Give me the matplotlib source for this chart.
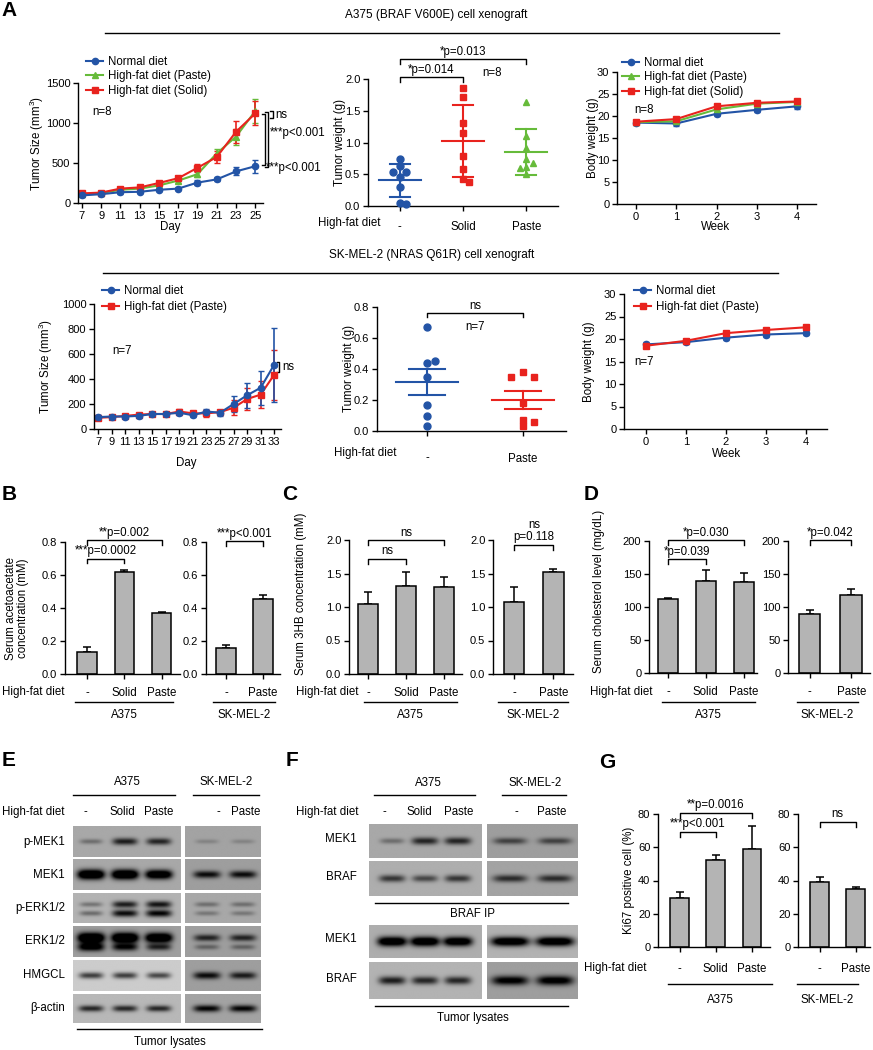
import numpy as np
import matplotlib
matplotlib.use("Agg")
import matplotlib.pyplot as plt
from matplotlib.lines import Line2D

plt.rcParams['font.family'] = ['Liberation Sans', 'DejaVu Sans']
plt.rcParams['font.size'] = 8.3
plt.rcParams['mathtext.fontset'] = 'custom'
plt.rcParams['mathtext.rm'] = 'Liberation Sans'
plt.rcParams['mathtext.it'] = 'Liberation Sans:italic'
plt.rcParams['axes.linewidth'] = 1.0

BLUE, RED, GREEN, GREY = '#2354a6', '#e8231e', '#66bb3a', '#b4b4b4'

# ---------------- data ----------------
# A, row 1: A375 xenograft
days_a375 = [7, 9, 11, 13, 15, 17, 19, 21, 23, 25]
a375_normal = [95, 110, 135, 140, 165, 180, 255, 295, 395, 460]
a375_normal_err = [20, 20, 20, 20, 20, 20, 35, 25, 50, 80]
a375_paste = [110, 125, 165, 180, 220, 280, 360, 620, 830, 1150]
a375_paste_err = [20, 20, 20, 20, 25, 30, 40, 60, 100, 150]
a375_solid = [120, 130, 180, 195, 250, 310, 440, 575, 890, 1120]
a375_solid_err = [20, 20, 25, 25, 30, 30, 50, 80, 140, 150]

wt_a375_normal = [0.74, 0.63, 0.53, 0.53, 0.45, 0.30, 0.05, 0.03]
wt_a375_solid = [1.86, 1.72, 1.30, 1.15, 0.78, 0.59, 0.43, 0.38]
wt_a375_paste = [1.63, 1.105, 0.92, 0.74, 0.68, 0.62, 0.60, 0.51]

weeks = [0, 1, 2, 3, 4]
bw_a375_normal = [18.5, 18.3, 20.5, 21.4, 22.2]
bw_a375_paste = [18.6, 18.8, 21.5, 22.8, 23.2]
bw_a375_solid = [18.7, 19.3, 22.2, 23.0, 23.3]
bw_a375_err = [0.5, 0.5, 0.5, 0.5, 0.5]

# A, row 2: SK-MEL-2 xenograft
days_sk = [7, 9, 11, 13, 15, 17, 19, 21, 23, 25, 27, 29, 31, 33]
sk_normal = [95, 100, 100, 105, 120, 120, 130, 110, 140, 130, 200, 270, 330, 515]
sk_normal_err = [20, 15, 15, 15, 15, 15, 20, 15, 20, 25, 65, 100, 135, 295]
sk_paste = [90, 95, 105, 115, 120, 120, 140, 125, 125, 135, 170, 240, 275, 435]
sk_paste_err = [20, 15, 15, 15, 15, 15, 20, 15, 25, 20, 60, 90, 110, 200]

wt_sk_normal = [0.67, 0.44, 0.45, 0.35, 0.17, 0.10, 0.03]
wt_sk_paste = [0.378, 0.35, 0.35, 0.18, 0.07, 0.058, 0.03]

bw_sk_normal = [18.8, 19.3, 20.3, 21.0, 21.3]
bw_sk_paste = [18.5, 19.6, 21.3, 22.0, 22.6]
bw_sk_err = [0.5, 0.5, 0.5, 0.5, 0.5]

# B-D, G bar charts
groups_a375 = ['-', 'Solid', 'Paste']
groups_sk = ['-', 'Paste']
acac_a375, acac_a375_err = [0.135, 0.62, 0.37], [0.03, 0.013, 0.005]
acac_sk, acac_sk_err = [0.155, 0.455], [0.02, 0.025]
hb_a375, hb_a375_err = [1.045, 1.31, 1.30], [0.18, 0.21, 0.15]
hb_sk, hb_sk_err = [1.075, 1.52], [0.22, 0.05]
chol_a375, chol_a375_err = [112, 139, 138], [1.5, 17, 13]
chol_sk, chol_sk_err = [89, 118], [6, 9]
ki67_a375, ki67_a375_err = [29.5, 52.4, 59], [3.5, 3, 14]
ki67_sk, ki67_sk_err = [39.2, 35], [3.1, 1]

# E, F western blots: band darkness per lane (A375: -, Solid, Paste; SK-MEL-2: -, Paste)
E_rows = ['p-MEK1', 'MEK1', 'p-ERK1/2', 'ERK1/2', 'HMGCL', 'β-actin']
E_a375 = [[[0.35, 0.85, 0.8]], [[1.6, 1.6, 1.45]], [[0.35, 0.85, 0.9], [0.4, 0.95, 1.0]],
          [[1.7, 1.7, 1.6], [1.2, 1.0, 0.8]], [[0.7, 0.7, 0.65]], [[0.8, 0.8, 0.8]]]
E_sk = [[[0.2, 0.2]], [[0.95, 0.95]], [[0.35, 0.35], [0.3, 0.3]],
        [[0.8, 0.8], [0.4, 0.4]], [[0.95, 0.85]], [[1.0, 1.0]]]
E_bg_a375 = [0.66, 0.66, 0.70, 0.62, 0.80, 0.72]
E_bg_sk = [0.64, 0.62, 0.66, 0.62, 0.62, 0.64]

F_rows = ['MEK1', 'BRAF', 'MEK1', 'BRAF']
F_a375 = [[[0.35, 0.8, 0.8]], [[0.7, 0.6, 0.7]], [[1.4, 1.4, 1.35]], [[0.85, 0.8, 0.8]]]
F_sk = [[[0.6, 0.6]], [[0.75, 0.75]], [[1.35, 1.35]], [[1.1, 1.15]]]
F_bg_a375 = [0.66, 0.68, 0.68, 0.70]
F_bg_sk = [0.62, 0.64, 0.70, 0.62]

# ---------------- helpers ----------------
W, H = 873, 1050
fig = plt.figure(figsize=(8.73, 10.5), dpi=100)


def px_axes(x0, y0, x1, y1):
    ax = fig.add_axes([x0 / W, 1 - y1 / H, (x1 - x0) / W, (y1 - y0) / H])
    return ax


def style(ax, xpad=2):
    for s in ['top', 'right']:
        ax.spines[s].set_visible(False)
    ax.tick_params(direction='out', length=3.5, width=1, labelsize=8, pad=2)
    ax.tick_params(axis='x', pad=xpad)


def ftext(x, y, s, **kw):
    kw.setdefault('ha', 'center')
    kw.setdefault('va', 'center')
    fig.text(x / W, 1 - y / H, s, **kw)


def fline(x0, x1, y, lw=1.0):
    fig.add_artist(Line2D([x0 / W, x1 / W], [1 - y / H, 1 - y / H], color='k', lw=lw,
                          transform=fig.transFigure))


def ylab(ax, text, xpx, x0, x1, frac=0.5):
    # xpx is roughly the label's right edge in figure pixels
    ax.set_ylabel(text, fontsize=8.3)
    ax.yaxis.set_label_coords((xpx - x0) / (x1 - x0), frac)


def legend_at(ax, handles, labels, x, y, spacing=0.2):
    ax.legend(handles, labels, loc='upper left', bbox_to_anchor=(x / W, 1 - y / H),
              bbox_transform=fig.transFigure, frameon=False, borderpad=0, borderaxespad=0,
              handlelength=1.5, handletextpad=0.4, labelspacing=spacing, fontsize=8.3)


def bracket(ax, x0, x1, y, tip, text, off=1):
    ax.plot([x0, x0, x1, x1], [y - tip, y, y, y - tip], color='k', lw=1, clip_on=False)
    ax.annotate(text, xy=((x0 + x1) / 2, y), xytext=(0, off), textcoords='offset points',
                ha='center', va='bottom', fontsize=8.3, annotation_clip=False,
                linespacing=1.0)


def handle(c, m):
    return Line2D([], [], color=c, marker=m, ms=4.5, lw=1.5)


def swarm(vals, d, thr):
    placed, offs = [], []
    for v in vals:
        for k in [0, 1, -1, 2, -2, 3, -3]:
            o = k * d
            if all(abs(o - po) > d * 0.9 or abs(v - pv) > thr for po, pv in placed):
                break
        placed.append((o, v))
        offs.append(o)
    return np.array(offs)


def scatter_group(ax, pos, vals, color, marker, err='sd', mw=0.33, cw=0.16, d=0.1, thr=0.1):
    vals = np.asarray(vals)
    m = vals.mean()
    e = vals.std(ddof=1)
    if err == 'sem':
        e = e / np.sqrt(len(vals))
    ax.plot(pos + swarm(vals, d, thr), vals, ls='none', marker=marker, color=color, ms=5,
            clip_on=False, zorder=3)
    ax.plot([pos - mw, pos + mw], [m, m], color=color, lw=1.5)
    ax.plot([pos, pos], [m - e, m + e], color=color, lw=1.5)
    for yv in (m - e, m + e):
        ax.plot([pos - cw, pos + cw], [yv, yv], color=color, lw=1.5)


def bar_axes(rect, xlim, ylim, yticks, vals, errs, labels, pad=6):
    ax = px_axes(*rect)
    style(ax, xpad=pad)
    x = np.arange(len(vals))
    ax.bar(x, vals, width=0.52, color=GREY, edgecolor='k', lw=1.1, zorder=2)
    ax.errorbar(x, vals, yerr=[np.zeros(len(vals)), errs], fmt='none', ecolor='k',
                elinewidth=1.1, capsize=3, capthick=1.1, zorder=1)
    ax.set_xlim(*xlim)
    ax.set_ylim(*ylim)
    ax.set_yticks(yticks)
    ax.set_xticks(x)
    ax.set_xticklabels(labels, fontsize=8.3)
    return ax


def blot(x0, x1, y0, y1, lim, bands, bg, thick=0.11, hw=0.36):
    ax = px_axes(x0, y0, x1, y1)
    lo, hi = lim
    h, w = 80, 260
    yy = np.linspace(0, 1, h)[:, None]
    xx = np.linspace(lo, hi, w)[None, :]
    img = np.full((h, w), bg, float)
    ypos = [0.5] if len(bands) == 1 else [0.38, 0.68]
    for yb, darks in zip(ypos, bands):
        for i, dk in enumerate(darks):
            sig = thick * (0.55 + 0.55 * dk)
            hwi = hw * (0.85 + 0.2 * min(dk, 1.3))
            prof = np.exp(-np.abs((xx - i) / hwi) ** 4) * np.exp(-((yy - yb) / sig) ** 2)
            img = img - bg * dk * prof
    ax.imshow(np.clip(img, 0, 1), cmap='gray', vmin=0, vmax=1, aspect='auto',
              extent=(lo, hi, 1, 0), interpolation='bilinear')
    ax.set_axis_off()
    return ax


# ---------------- panel letters & headers ----------------
for s, x, y in [('A', 9, 10), ('B', 9, 495), ('C', 290, 495), ('D', 591, 495),
                ('E', 9, 760), ('F', 292, 760), ('G', 607, 762)]:
    ftext(x, y, s, fontsize=15, fontweight='bold')

ftext(436, 15, 'A375 (BRAF V600E) cell xenograft', fontsize=8.5)
fline(105, 779, 33)
ftext(432, 255, 'SK-MEL-2 (NRAS Q61R) cell xenograft', fontsize=8.5)
fline(103, 778, 273)

# ---------------- A row 1 ----------------
r = (78, 83, 263, 203)
ax = px_axes(*r)
style(ax)
for v, e, c, m in [(a375_paste, a375_paste_err, GREEN, '^'), (a375_solid, a375_solid_err, RED, 's'),
                   (a375_normal, a375_normal_err, BLUE, 'o')]:
    ax.errorbar(days_a375, v, yerr=e, color=c, marker=m, ms=4.5, lw=1.5, capsize=2.5,
                elinewidth=1.2, clip_on=False)
ax.set_xlim(6.6, 25.8)
ax.set_ylim(0, 1500)
ax.set_xticks(days_a375)
ax.set_yticks([0, 500, 1000, 1500])
ylab(ax, 'Tumor Size (mm$^3$)', 46, r[0], r[2])
ftext(170, 227, 'Day')
ftext(102, 112, 'n=8')
legend_at(ax, [handle(BLUE, 'o'), handle(GREEN, '^'), handle(RED, 's')],
          ['Normal diet', 'High-fat diet (Paste)', 'High-fat diet (Solid)'], 86, 56)
for xb, top, bot in [(26.0, 1110, 470), (26.35, 1140, 455)]:
    ax.plot([xb - 0.3, xb, xb, xb - 0.3], [top, top, bot, bot], color='k', lw=1, clip_on=False)
ax.plot([26.55, 26.85, 26.85, 26.55], [1145, 1145, 1065, 1065], color='k', lw=1, clip_on=False)
ax.text(27.1, 1105, 'ns', fontsize=8.3, va='center', ha='left')
ax.text(26.5, 880, '***p<0.001', fontsize=8.3, va='center', ha='left')
ax.text(26.1, 440, '***p<0.001', fontsize=8.3, va='center', ha='left')

r = (368, 79, 558, 206)
ax = px_axes(*r)
style(ax, xpad=7)
scatter_group(ax, 0, wt_a375_normal, BLUE, 'o')
scatter_group(ax, 1, wt_a375_solid, RED, 's')
scatter_group(ax, 2, wt_a375_paste, GREEN, '^')
ax.set_xlim(-0.5, 2.5)
ax.set_ylim(0, 2.0)
ax.set_yticks([0, 0.5, 1.0, 1.5, 2.0])
ax.set_yticklabels(['0.0', '0.5', '1.0', '1.5', '2.0'])
ax.set_xticks([0, 1, 2])
ax.set_xticklabels(groups_a375, fontsize=8.3)
ylab(ax, 'Tumor weight (g)', 346, r[0], r[2])
ftext(380, 223, 'High-fat diet', ha='right')
ftext(492, 73, 'n=8')
bracket(ax, 0, 1, 2.03, 0.08, '*p=0.014')
bracket(ax, 0, 2, 2.31, 0.08, '*p=0.013')

r = (617, 72, 816, 204)
ax = px_axes(*r)
style(ax)
for v, c, m in [(bw_a375_normal, BLUE, 'o'), (bw_a375_paste, GREEN, '^'), (bw_a375_solid, RED, 's')]:
    ax.errorbar(weeks, v, yerr=bw_a375_err, color=c, marker=m, ms=4.5, lw=1.5, capsize=2.5,
                elinewidth=1.2)
ax.set_xlim(-0.47, 4.47)
ax.set_ylim(0, 30)
ax.set_xticks(weeks)
ax.set_yticks(range(0, 31, 5))
ylab(ax, 'Body weight (g)', 599, r[0], r[2])
ftext(716, 227, 'Week')
ftext(644, 110, 'n=8')
legend_at(ax, [handle(BLUE, 'o'), handle(GREEN, '^'), handle(RED, 's')],
          ['Normal diet', 'High-fat diet (Paste)', 'High-fat diet (Solid)'], 622, 57)

# ---------------- A row 2 ----------------
r = (94, 304, 281, 429)
ax = px_axes(*r)
style(ax)
for v, e, c, m in [(sk_paste, sk_paste_err, RED, 's'), (sk_normal, sk_normal_err, BLUE, 'o')]:
    ax.errorbar(days_sk, v, yerr=e, color=c, marker=m, ms=4.5, lw=1.5, capsize=2.5,
                elinewidth=1.2, clip_on=False)
ax.set_xlim(6.4, 34)
ax.set_ylim(0, 1000)
ax.set_xticks(days_sk)
ax.set_yticks(range(0, 1001, 200))
ylab(ax, 'Tumor Size (mm$^3$)', 55, r[0], r[2])
ftext(186, 463, 'Day')
ftext(122, 351, 'n=7')
legend_at(ax, [handle(BLUE, 'o'), handle(RED, 's')], ['Normal diet', 'High-fat diet (Paste)'],
          102, 285, spacing=0.35)
ax.plot([33.4, 33.75, 33.75, 33.4], [536, 536, 456, 456], color='k', lw=1, clip_on=False)
ax.text(34.2, 496, 'ns', fontsize=8.3, va='center', ha='left')

r = (377, 307, 566, 431)
ax = px_axes(*r)
style(ax, xpad=12)
scatter_group(ax, 0, wt_sk_normal, BLUE, 'o', err='sem', mw=0.32, cw=0.19, d=0.08, thr=0.03)
scatter_group(ax, 1, wt_sk_paste, RED, 's', err='sem', mw=0.32, cw=0.19, d=0.12, thr=0.03)
ax.set_xlim(-0.52, 1.45)
ax.set_ylim(0, 0.8)
ax.set_yticks([0, 0.2, 0.4, 0.6, 0.8])
ax.set_yticklabels(['0.0', '0.2', '0.4', '0.6', '0.8'])
ax.set_xticks([0, 1])
ax.set_xticklabels(groups_sk, fontsize=8.3)
ylab(ax, 'Tumor weight (g)', 355, r[0], r[2])
ftext(397, 453, 'High-fat diet', ha='right')
ftext(475, 327, 'n=7')
bracket(ax, 0, 1, 0.76, 0.025, 'ns')

r = (624, 294, 827, 429)
ax = px_axes(*r)
style(ax)
for v, c, m in [(bw_sk_normal, BLUE, 'o'), (bw_sk_paste, RED, 's')]:
    ax.errorbar(weeks, v, yerr=bw_sk_err, color=c, marker=m, ms=4.5, lw=1.5, capsize=2.5,
                elinewidth=1.2)
ax.set_xlim(-0.55, 4.53)
ax.set_ylim(0, 30)
ax.set_xticks(weeks)
ax.set_yticks(range(0, 31, 5))
ylab(ax, 'Body weight (g)', 595, r[0], r[2])
ftext(727, 454, 'Week')
ftext(644, 362, 'n=7')
legend_at(ax, [handle(BLUE, 'o'), handle(RED, 's')], ['Normal diet', 'High-fat diet (Paste)'],
          634, 285, spacing=0.35)

# ---------------- B, C, D ----------------
ax = bar_axes((65, 542, 180, 674), (-0.59, 2.49), (0, 0.8), [0, 0.2, 0.4, 0.6, 0.8],
              acac_a375, acac_a375_err, groups_a375)
ax.set_yticklabels(['0.0', '0.2', '0.4', '0.6', '0.8'])
ax.set_ylabel('Serum acetoacetate\nconcentration (mM)', fontsize=8.3, linespacing=1.0)
ax.yaxis.set_label_coords((29 - 65) / 115, 0.5)
bracket(ax, 0, 1, 0.70, 0.03, '***p=0.0002')
bracket(ax, 0, 2, 0.81, 0.03, '**p=0.002')
ax = bar_axes((206, 542, 280, 674), (-0.54, 1.46), (0, 0.8), [0, 0.2, 0.4, 0.6, 0.8],
              acac_sk, acac_sk_err, groups_sk)
ax.set_yticklabels(['0.0', '0.2', '0.4', '0.6', '0.8'])
bracket(ax, 0, 1, 0.806, 0.03, '***p<0.001')

ax = bar_axes((349, 540, 462, 674), (-0.5, 2.47), (0, 2.0), [0, 0.5, 1.0, 1.5, 2.0],
              hb_a375, hb_a375_err, groups_a375)
ax.set_yticklabels(['0.0', '0.5', '1.0', '1.5', '2.0'])
ylab(ax, 'Serum 3HB concentration (mM)', 307, 349, 462, 0.6)
bracket(ax, 0, 1, 1.72, 0.075, 'ns')
bracket(ax, 0, 2, 2.0, 0.075, 'ns')
ax = bar_axes((493, 540, 573, 674), (-0.54, 1.5), (0, 2.0), [0, 0.5, 1.0, 1.5, 2.0],
              hb_sk, hb_sk_err, groups_sk)
ax.set_yticklabels(['0.0', '0.5', '1.0', '1.5', '2.0'])
bracket(ax, 0, 1, 1.93, 0.075, 'ns\np=0.118')

ax = bar_axes((649, 541, 757, 673), (-0.5, 2.35), (0, 200), [0, 50, 100, 150, 200],
              chol_a375, chol_a375_err, groups_a375)
ylab(ax, 'Serum cholesterol level (mg/dL)', 605, 649, 757, 0.62)
bracket(ax, 0, 1, 172, 7, '*p=0.039')
bracket(ax, 0, 2, 201, 7, '*p=0.030')
ax = bar_axes((788, 541, 870, 673), (-0.52, 1.45), (0, 200), [0, 50, 100, 150, 200],
              chol_sk, chol_sk_err, groups_sk)
bracket(ax, 0, 1, 201, 7, '*p=0.042')

for xr, yb in [(65, 692), (358, 692), (653, 692)]:
    ftext(xr, yb, 'High-fat diet', ha='right')
for x0, x1, name in [(75, 173, 'A375'), (213, 275, 'SK-MEL-2'), (364, 457, 'A375'),
                     (498, 568, 'SK-MEL-2'), (662, 755, 'A375'), (797, 858, 'SK-MEL-2')]:
    fline(x0, x1, 702)
    ftext((x0 + x1) / 2, 715, name)

# ---------------- G ----------------
ax = bar_axes((658, 814, 770, 947), (-0.6, 2.5), (0, 80), [0, 20, 40, 60, 80],
              ki67_a375, ki67_a375_err, groups_a375, pad=8)
ylab(ax, 'Ki67 positive cell (%)', 635, 658, 770)
bracket(ax, 0, 1, 69.3, 3, '***p<0.001')
bracket(ax, 0, 2, 80.7, 3, '**p=0.0016')
ax = bar_axes((798, 814, 870, 947), (-0.6, 1.4), (0, 80), [0, 20, 40, 60, 80],
              ki67_sk, ki67_sk_err, groups_sk, pad=8)
bracket(ax, 0, 1, 75.3, 3, 'ns')
ftext(646, 968, 'High-fat diet', ha='right')
for x0, x1, name in [(668, 772, 'A375'), (797, 858, 'SK-MEL-2')]:
    fline(x0, x1, 984)
    ftext((x0 + x1) / 2, 1000, name)

# ---------------- E ----------------
ftext(127, 782, 'A375')
fline(73, 175, 795)
ftext(226, 782, 'SK-MEL-2')
fline(193, 259, 795)
ftext(65, 812, 'High-fat diet', ha='right')
for x, s in [(85, '-'), (122, 'Solid'), (159, 'Paste'), (218, '-'), (246, 'Paste')]:
    ftext(x, 812, s)
E_ybox = [(826, 857), (859, 890), (893, 923), (926, 957), (960, 991), (994, 1023)]
for i, (y0, y1) in enumerate(E_ybox):
    blot(73, 181, y0, y1, (-0.53, 2.65), E_a375[i], E_bg_a375[i])
    blot(185, 261, y0, y1, (-0.61, 1.5), E_sk[i], E_bg_sk[i])
    ftext(65, (y0 + y1) / 2, E_rows[i], ha='right')
fline(77, 262, 1029)
ftext(170, 1042, 'Tumor lysates')

# ---------------- F ----------------
ftext(428, 783, 'A375')
fline(374, 475, 795)
ftext(535, 783, 'SK-MEL-2')
fline(502, 566, 795)
ftext(358, 812, 'High-fat diet', ha='right')
for x, s in [(384, '-'), (419, 'Solid'), (459, 'Paste'), (516, '-'), (552, 'Paste')]:
    ftext(x, 812, s)
F_ybox = [(824, 858), (861, 896), (925, 958), (962, 999)]
for i, (y0, y1) in enumerate(F_ybox):
    blot(369, 482, y0, y1, (-0.7, 2.73), F_a375[i], F_bg_a375[i], hw=0.4)
    blot(487, 578, y0, y1, (-0.51, 1.51), F_sk[i], F_bg_sk[i], hw=0.38)
    ftext(357, (y0 + y1) / 2 - 2, F_rows[i], ha='right')
fline(375, 568, 903)
ftext(473, 914, 'BRAF IP')
fline(375, 568, 1006)
ftext(473, 1018, 'Tumor lysates')

fig.savefig('out.png', dpi=100)
